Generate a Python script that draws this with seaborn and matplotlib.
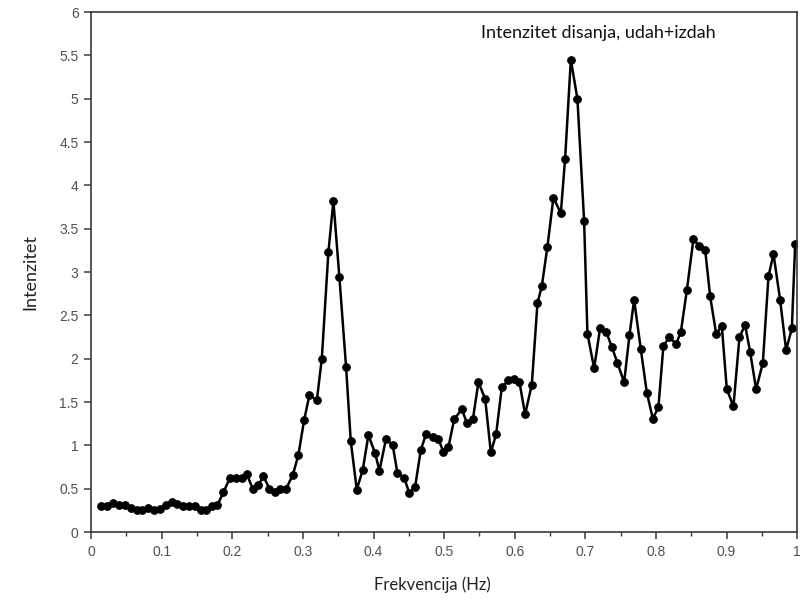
import matplotlib
matplotlib.use("Agg")
import matplotlib.pyplot as plt
from matplotlib.ticker import MultipleLocator
import seaborn as sns
import pandas as pd

freq = [0.0137, 0.0222, 0.0316, 0.0401, 0.0482, 0.0562, 0.0647, 0.0727, 0.0812, 0.0892,
        0.0977, 0.1062, 0.1143, 0.1222, 0.1307, 0.1392, 0.1473, 0.1554, 0.1629, 0.1710,
        0.1789, 0.1874, 0.1969, 0.2054, 0.2135, 0.2205, 0.2290, 0.2370, 0.2440, 0.2525,
        0.2606, 0.2677, 0.2762, 0.2857, 0.2936, 0.3017, 0.3092, 0.3197, 0.3268, 0.3361,
        0.3432, 0.3517, 0.3612, 0.3678, 0.3763, 0.3848, 0.3928, 0.4023, 0.4084, 0.4178,
        0.4273, 0.4339, 0.4433, 0.4508, 0.4589, 0.4670, 0.4745, 0.4840, 0.4919, 0.4990,
        0.5061, 0.5142, 0.5251, 0.5322, 0.5407, 0.5486, 0.5581, 0.5662, 0.5737, 0.5817,
        0.5911, 0.5992, 0.6067, 0.6147, 0.6242, 0.6322, 0.6384, 0.6463, 0.6548, 0.6653,
        0.6714, 0.6795, 0.6888, 0.6983, 0.7030, 0.7125, 0.7210, 0.7295, 0.7375, 0.7455,
        0.7550, 0.7625, 0.7691, 0.7786, 0.7871, 0.7956, 0.8035, 0.8106, 0.8191, 0.8286,
        0.8353, 0.8438, 0.8531, 0.8616, 0.8697, 0.8768, 0.8853, 0.8933, 0.9004, 0.9098,
        0.9183, 0.9263, 0.9334, 0.9419, 0.9514, 0.9594, 0.9665, 0.9759, 0.9844, 0.9925,
        0.9972]

intensity = [0.30, 0.30, 0.34, 0.31, 0.31, 0.28, 0.26, 0.26, 0.28, 0.26,
             0.27, 0.31, 0.35, 0.32, 0.30, 0.30, 0.30, 0.25, 0.25, 0.30,
             0.31, 0.46, 0.63, 0.62, 0.63, 0.67, 0.50, 0.54, 0.65, 0.50,
             0.46, 0.50, 0.50, 0.66, 0.89, 1.29, 1.58, 1.52, 2.00, 3.23,
             3.82, 2.94, 1.90, 1.05, 0.49, 0.72, 1.12, 0.91, 0.71, 1.08,
             1.00, 0.68, 0.63, 0.45, 0.52, 0.95, 1.13, 1.10, 1.07, 0.93,
             0.98, 1.30, 1.42, 1.26, 1.30, 1.73, 1.54, 0.92, 1.13, 1.67,
             1.75, 1.77, 1.73, 1.36, 1.70, 2.64, 2.84, 3.29, 3.86, 3.68,
             4.31, 5.45, 5.00, 3.59, 2.29, 1.89, 2.36, 2.31, 2.14, 1.95,
             1.73, 2.27, 2.68, 2.11, 1.61, 1.31, 1.44, 2.15, 2.25, 2.17,
             2.31, 2.79, 3.38, 3.30, 3.26, 2.72, 2.29, 2.38, 1.65, 1.45,
             2.25, 2.39, 2.08, 1.65, 1.95, 2.95, 3.21, 2.68, 2.10, 2.35,
             3.32]

x_ticks = [0, 0.1, 0.2, 0.3, 0.4, 0.5, 0.6, 0.7, 0.8, 0.9, 1]
x_tick_labels = ["0", "0.1", "0.2", "0.3", "0.4", "0.5", "0.6", "0.7", "0.8", "0.9", "1"]
y_ticks = [0, 0.5, 1, 1.5, 2, 2.5, 3, 3.5, 4, 4.5, 5, 5.5, 6]
y_tick_labels = ["0", "0.5", "1", "1.5", "2", "2.5", "3", "3.5", "4", "4.5", "5", "5.5", "6"]

df = pd.DataFrame({"freq": freq, "intensity": intensity})

sns.set_style("ticks")
plt.rcParams["font.family"] = ["Liberation Sans", "DejaVu Sans"]

fig = plt.figure(figsize=(8.06, 6.02), dpi=100)
ax = fig.add_axes([0.113, 0.116, 0.876, 0.864])

sns.lineplot(data=df, x="freq", y="intensity", ax=ax, color="black",
             linewidth=1.8, marker="o", markersize=5.5, markeredgecolor="black",
             markerfacecolor="black", estimator=None, sort=False)

ax.set_xlim(0, 1)
ax.set_ylim(0, 6)
ax.set_xticks(x_ticks)
ax.set_xticklabels(x_tick_labels)
ax.set_yticks(y_ticks)
ax.set_yticklabels(y_tick_labels)
ax.xaxis.set_minor_locator(MultipleLocator(0.05))

for s in ax.spines.values():
    s.set_visible(True)
    s.set_color("#3a3a3a")
    s.set_linewidth(1.2)

ax.tick_params(axis="both", which="major", direction="out", length=5, width=1.1,
               color="#3a3a3a", labelcolor="#505050", labelsize=10, pad=4)
ax.tick_params(axis="x", which="minor", direction="out", length=3, width=1.0,
               color="#3a3a3a")
ax.tick_params(top=False, right=False, which="both")

ax.set_xlabel("Frekvencija (Hz)", fontsize=12, family=["Lato", "DejaVu Sans"],
              color="#222222", labelpad=13)
ax.xaxis.set_label_coords(0.484, -0.085)
ax.set_ylabel("Intenzitet", fontsize=13, family=["Lato", "DejaVu Sans"],
              color="#222222", labelpad=15)

ax.text(0.552, 5.76, "Intenzitet disanja, udah+izdah", fontsize=13,
        family=["Lato", "DejaVu Sans"], color="#111111", ha="left", va="center")

fig.savefig("out.png", dpi=100)
